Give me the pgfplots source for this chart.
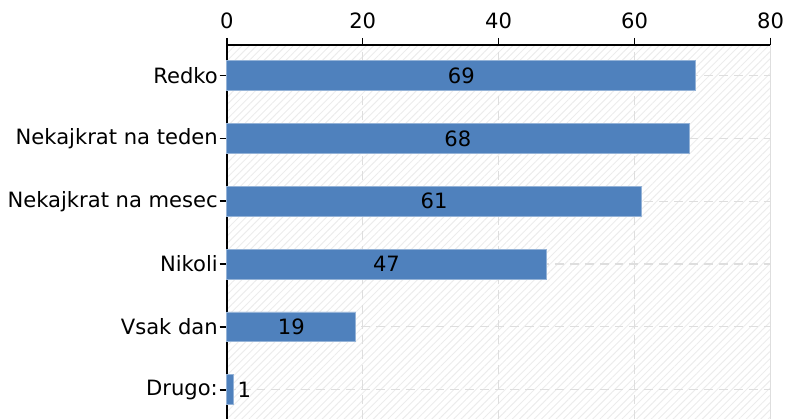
\documentclass[border=0pt]{standalone}
\usepackage{pgfplots}
\pgfplotsset{compat=1.18}
\usepackage{pgfplotstable}
\usepackage{fontspec}
\setmainfont{DejaVu Sans}
\usetikzlibrary{patterns.meta}
\definecolor{barblue}{RGB}{79,129,189}
\definecolor{gridgray}{RGB}{222,222,222}
\definecolor{hatch}{RGB}{236,236,236}

% pos 0 = bottom row
\pgfplotstableread{
pos v
0 1
1 19
2 47
3 61
4 68
5 69
}\answers

\begin{document}
\begin{tikzpicture}[font=\fontsize{10.6}{12}\selectfont]
\begin{axis}[
  width=273.5pt, height=188pt, scale only axis,
  xmin=0, xmax=80, ymin=-0.46, ymax=5.49,
  axis x line*=top, axis y line*=left,
  axis line style={black, line width=0.8pt, -},
  xtick={0,20,...,80}, ytick={0,...,5},
  yticklabel style={inner sep=0.8pt},
  yticklabels={Drugo:, Vsak dan, Nikoli, Nekajkrat na mesec, Nekajkrat na teden, Redko},
  tick align=outside,
  major tick length=3.5pt,
  tick style={black, line width=0.8pt},
  xticklabel style={inner sep=2pt, yshift=2.5pt},
  /pgf/number format/assume math mode=true,
  grid=major,
  major grid style={gridgray, dash pattern=on 4.5pt off 3pt, line width=0.6pt},
  extra x ticks={80}, extra x tick labels={},
  extra x tick style={grid=major, major grid style={solid, gridgray, line width=0.8pt}},
  axis background/.style={pattern={Lines[angle=45, distance=2.6pt, line width=0.5pt]}, pattern color=hatch},
  clip=false,
]
\addplot[xbar, bar width=15pt, fill=barblue, draw=barblue!60!white, line width=0.4pt] table[x=v, y=pos] \answers;
\addplot[only marks, mark=none, nodes near coords, point meta=explicit,
  nodes near coords style={anchor=center, text=black}]
  table[x expr={\thisrow{v}>5 ? \thisrow{v}/2 : \thisrow{v}+1.6}, y=pos, meta=v] \answers;
\end{axis}
\path ([xshift=-114pt]current axis.south west) rectangle ([xshift=6.5pt, yshift=22.5pt]current axis.north east);
\end{tikzpicture}
\end{document}
